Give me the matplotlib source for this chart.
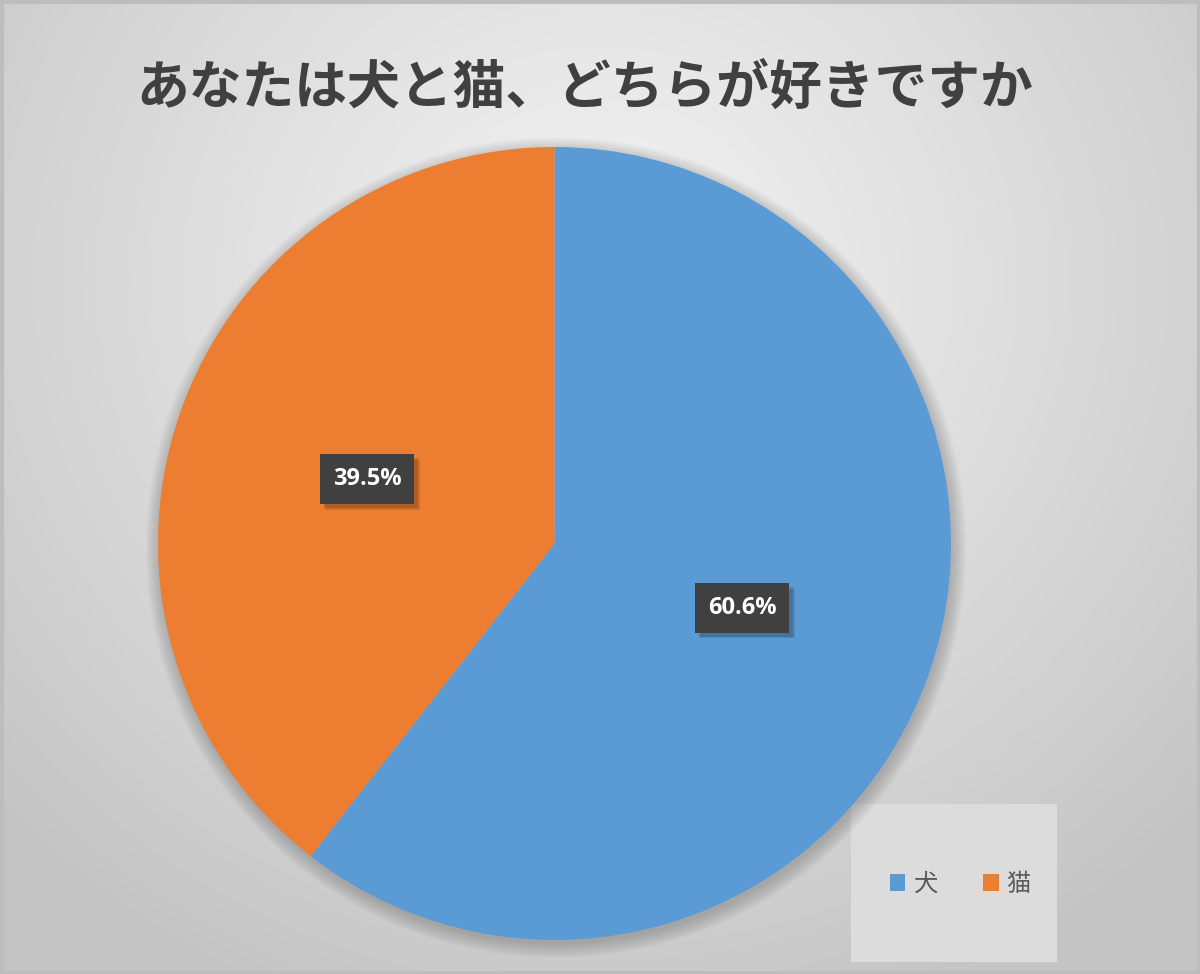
import numpy as np
import matplotlib
matplotlib.use("Agg")
import matplotlib.pyplot as plt
from matplotlib.patches import Rectangle, Circle, Patch
import matplotlib.patheffects as pe

# ---- data ----
title = "あなたは犬と猫、どちらが好きですか"
categories = ["犬", "猫"]
values = [60.6, 39.5]
colors = ["#5B9BD5", "#ED7D31"]

W, H = 1200, 974
fig = plt.figure(figsize=(W / 100, H / 100), dpi=100)

# ---- background radial gradient ----
bg = fig.add_axes([0, 0, 1, 1])
yy, xx = np.mgrid[0:H, 0:W]
d = np.sqrt((xx - 600) ** 2 + ((yy - 280) * 1.05) ** 2)
t = np.clip(d / 820, 0, 1)
c0, c1 = 0.955, 0.77
img = c0 + (c1 - c0) * t ** 1.1
bg.imshow(np.dstack([img, img, img]), extent=[0, W, H, 0], aspect="auto")
bg.set_xlim(0, W)
bg.set_ylim(H, 0)
bg.axis("off")
bg.add_patch(Rectangle((1.5, 1.5), W - 3, H - 3, fill=False, edgecolor="#bdbdbd", lw=3))

# ---- pie ----
cx, cy, R = 554.5, 543.5, 396.5
ax = fig.add_axes([(cx - R) / W, (H - cy - R) / H, 2 * R / W, 2 * R / H])
ax.axis("off")
# soft shadow
for r in np.linspace(1.035, 1.0, 12):
    ax.add_patch(Circle((0.004, -0.01), r, color="black", alpha=0.014, lw=0,
                        zorder=0, clip_on=False))
wedges, _ = ax.pie(values, colors=colors, startangle=90, counterclock=False,
                   radius=1.0, wedgeprops=dict(linewidth=0))
ax.set_xlim(-1, 1)
ax.set_ylim(-1, 1)

for w, v in zip(wedges, values):
    ang = np.deg2rad((w.theta1 + w.theta2) / 2)
    x, y = 0.5 * np.cos(ang), 0.5 * np.sin(ang)
    txt = ax.text(x, y, f"{v}%", ha="center", va="center", color="white",
                  fontsize=17, fontweight="bold", family=["Open Sans", "DejaVu Sans"],
                  bbox=dict(boxstyle="square,pad=0.55", facecolor="#404040", edgecolor="none"),
                  zorder=5)
    txt.get_bbox_patch().set_path_effects([
        pe.SimplePatchShadow(offset=(4, -4), shadow_rgbFace="black", alpha=0.12),
        pe.SimplePatchShadow(offset=(3, -3), shadow_rgbFace="black", alpha=0.15),
        pe.Normal()])

# ---- title ----
fig.text(585 / W, 1 - 88 / H, title, ha="center", va="center", fontsize=38,
         fontweight="bold", color="#404040",
         family=["Noto Sans CJK JP", "DejaVu Sans"])

# ---- legend box ----
bg.add_patch(Rectangle((851, 804), 206, 158, facecolor="#dcdcdc", edgecolor="none", zorder=3))
handles = [Patch(facecolor=c, edgecolor="none") for c in colors]
leg = fig.legend(handles, categories, loc="center", bbox_to_anchor=(960 / W, 1 - 884 / H),
                 ncol=2, frameon=False, handlelength=0.65, handleheight=0.65,
                 handletextpad=0.3, columnspacing=1.9,
                 prop=dict(family=["Noto Sans CJK JP", "DejaVu Sans"], size=17.5))
for tx in leg.get_texts():
    tx.set_color("#595959")

fig.savefig("out.png", dpi=100)
